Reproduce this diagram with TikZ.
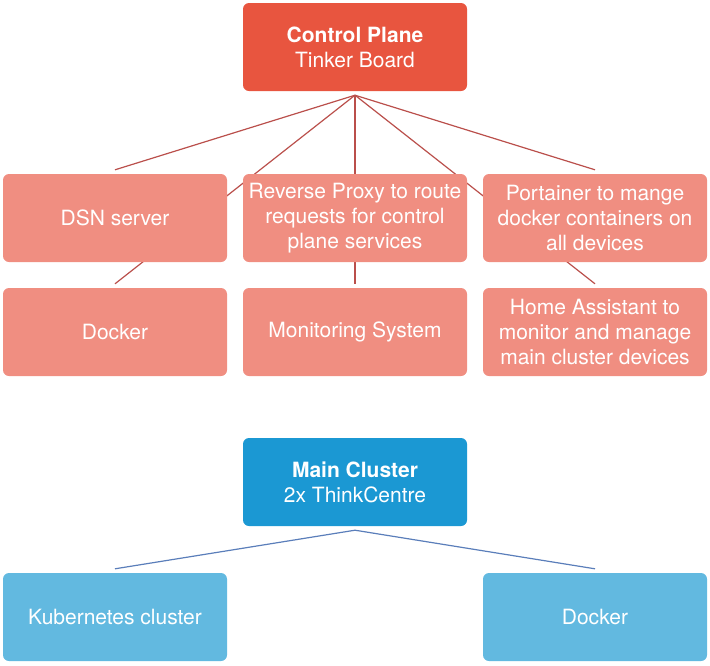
\documentclass[tikz,border=0pt]{standalone}
\usepackage{fontspec}
\setmainfont{TeX Gyre Heros}
\usepackage{tikz}
\usetikzlibrary{positioning,backgrounds}

\definecolor{planered}{HTML}{E8553F}
\definecolor{planelight}{HTML}{F08E81}
\definecolor{planeline}{HTML}{BA4F4B}
\definecolor{clusterblue}{HTML}{1B98D3}
\definecolor{clusterlight}{HTML}{62B9E0}
\definecolor{clusterline}{HTML}{5A7EBA}

\begin{document}
\begin{tikzpicture}[x=1pt,y=-1pt,
                    box/.style={rounded corners=6pt, minimum width=224pt, minimum height=88pt,
                                inner sep=0pt, align=center, text=white,
                                font=\fontsize{21}{25}\selectfont},
                    head/.style={box, fill=planered},
                    sub/.style={box, fill=planelight},
                    chead/.style={box, fill=clusterblue},
                    csub/.style={box, fill=clusterlight},
                    redline/.style={line width=1.2pt, planeline},
                    blueline/.style={line width=1.2pt, clusterline},
                   ]

\useasboundingbox (0,0) rectangle (710,665);

\node[head] (cp) at (355,47) {\textbf{Control Plane}\\Tinker Board};

\node[sub] (dsn)   at (115,218) {DSN server};
\node[sub] (proxy) at (355,218) {Reverse Proxy to route\\requests for control\\plane services};
\node[sub] (port)  at (595,218) {Portainer to mange\\docker containers on\\all devices};

\node[sub] (docker) at (115,332) {Docker};
\node[sub] (mon)    at (355,332) {Monitoring System};
\node[sub] (home)   at (595,332) {Home Assistant to\\monitor and manage\\main cluster devices};

\node[chead] (main) at (355,482) {\textbf{Main Cluster}\\2x ThinkCentre};

\node[csub] (kube)    at (115,617) {Kubernetes cluster};
\node[csub] (cdocker) at (595,617) {Docker};

\coordinate (cp hub) at ([yshift=-4pt]cp.south);
\coordinate (main hub) at ([yshift=-4pt]main.south);

\begin{scope}[on background layer]
\foreach \n in {dsn,proxy,port,docker,mon,home}
  \draw[redline] (cp hub) -- ([yshift=4pt]\n.north);
\foreach \n in {kube,cdocker}
  \draw[blueline] (main hub) -- ([yshift=4pt]\n.north);
\end{scope}

\end{tikzpicture}
\end{document}
